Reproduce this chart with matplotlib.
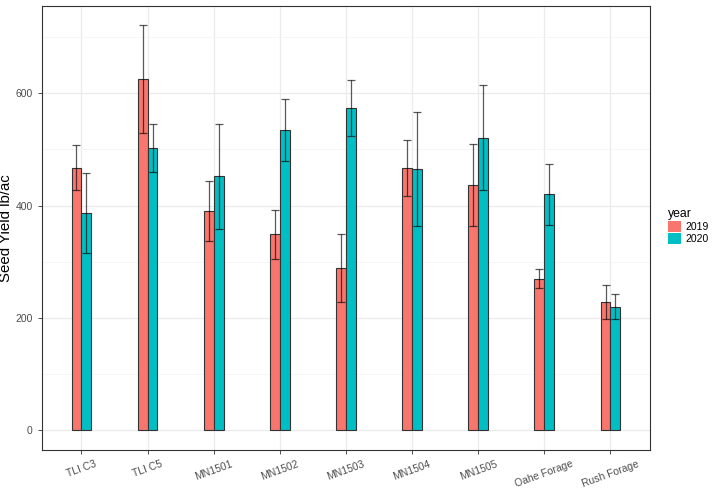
import numpy as np
import matplotlib
matplotlib.use("Agg")
import matplotlib.pyplot as plt
from matplotlib.patches import Patch
from matplotlib.ticker import MultipleLocator

plt.rcParams["font.family"] = ["Liberation Sans", "DejaVu Sans"]

varieties = ["TLI C3", "TLI C5", "MN1501", "MN1502", "MN1503",
             "MN1504", "MN1505", "Oahe Forage", "Rush Forage"]
years = ["2019", "2020"]
yield_2019 = [467, 625, 390, 349, 289, 467, 436, 270, 228]
yield_2020 = [387, 502, 452, 534, 573, 465, 521, 420, 220]
err_2019 = [40, 96, 53, 44, 61, 50, 73, 17, 30]
err_2020 = [71, 43, 93, 55, 50, 102, 93, 54, 22]

colors = {"2019": "#F8766D", "2020": "#00BFC4"}
bar_w = 0.15

fig = plt.figure(figsize=(7.2, 5.04), dpi=100)
ax = fig.add_axes([0.058, 0.107, 0.845, 0.881])

x = np.arange(1, len(varieties) + 1)
for i, (yr, vals, errs) in enumerate(zip(years, [yield_2019, yield_2020], [err_2019, err_2020])):
    pos = x + (i - 0.5) * bar_w
    ax.bar(pos, vals, width=bar_w, color=colors[yr], edgecolor="#333333",
           linewidth=0.8, zorder=3)
    ax.errorbar(pos, vals, yerr=errs, fmt="none", ecolor="black", alpha=0.65,
                elinewidth=0.9, capsize=3, capthick=0.9, zorder=4)

ax.set_xlim(0.4, 9.6)
ax.set_ylim(-35, 755)
ax.set_xticks(x)
ax.set_xticklabels(varieties, rotation=20, ha="center", fontsize=7.5, color="#4D4D4D")
ax.yaxis.set_major_locator(MultipleLocator(200))
ax.yaxis.set_minor_locator(MultipleLocator(100))
ax.tick_params(axis="y", labelsize=7.5, labelcolor="#4D4D4D")
ax.tick_params(which="major", length=3, color="#333333", width=0.6)
ax.tick_params(which="minor", length=0)
ax.grid(which="major", color="#EBEBEB", linewidth=0.9, zorder=0)
ax.grid(which="minor", axis="y", color="#F3F3F3", linewidth=0.5, zorder=0)
ax.set_axisbelow(True)
for sp in ax.spines.values():
    sp.set_color("#333333")
    sp.set_linewidth(0.8)
ax.set_ylabel("Seed Yield lb/ac", fontsize=10.8)
ax.yaxis.set_label_coords(-0.047, 0.5)

handles = [Patch(facecolor=colors[y], edgecolor="none", label=y) for y in years]
leg = fig.legend(handles=handles, title="year", loc="upper left",
                 bbox_to_anchor=(0.915, 0.605), frameon=False, fontsize=7.5,
                 title_fontsize=8.8, handlelength=1.2, handleheight=1.2,
                 handletextpad=0.5, labelspacing=0.1)
leg._legend_box.align = "left"

fig.savefig("out.png", dpi=100)
